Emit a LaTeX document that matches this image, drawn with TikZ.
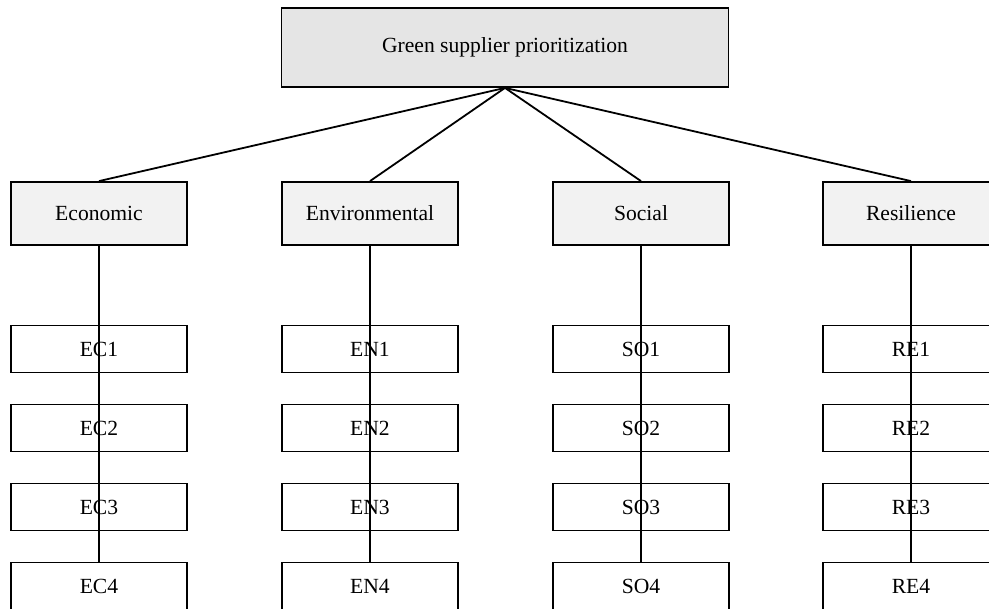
\documentclass[tikz,border=0pt]{standalone}
\usepackage{fontspec}
\setmainfont{Liberation Serif}
\usetikzlibrary{positioning}

\begin{document}
\begin{tikzpicture}[x=1pt,y=-1pt,
  every node/.style={font=\fontsize{21.6}{26}\selectfont, inner sep=0pt},
  goal/.style={draw, line width=1.8pt, fill=black!10, minimum width=447pt, minimum height=79pt},
  criterion/.style={draw, line width=1.8pt, fill=black!5, minimum width=176pt, minimum height=63pt},
  subcriterion/.style={draw, line width=1.8pt, fill=white, minimum width=176pt, minimum height=47pt},
  link/.style={line width=1.8pt}]

  % Frame of the picture, right and bottom boxes are cut off
  \clip (0,0) rectangle (989,609);

  \node [goal] (goal) at (505,47.5) {Green supplier prioritization};

  % Criteria and their sub-criteria
  \foreach \name/\crit/\code/\x in {eco/Economic/EC/99, env/Environmental/EN/370,
      soc/Social/SO/641, res/Resilience/RE/911} {
    \node [criterion] (\name) at (\x,213.5) {\crit};
    \foreach \i in {1,...,4}
      \node [subcriterion] (\name\i) at (\x,{349+79*(\i-1)}) {\code\i};
    \draw [link] (goal.south) -- (\name.north);
    \draw [link] (\name.south) -- (\name4.north);
  }
\end{tikzpicture}
\end{document}
